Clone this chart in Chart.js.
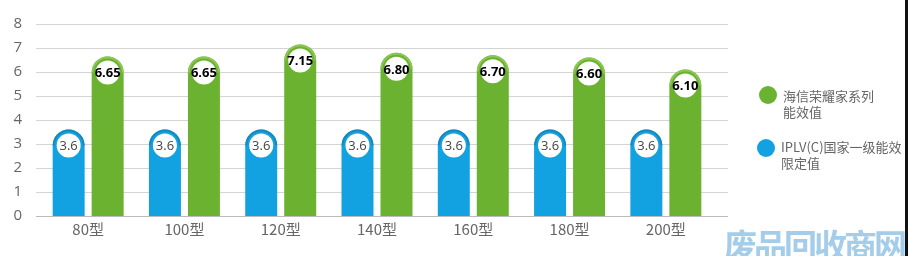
<!DOCTYPE html>
<html>
<head>
<meta charset="utf-8">
<script src="https://cdn.jsdelivr.net/npm/chart.js@4/dist/chart.umd.min.js"></script>
<style>
  body { margin: 0; background: #fff; font-family: "Noto Sans CJK SC", "Noto Sans", sans-serif; }
  #wrap { position: relative; width: 908px; height: 256px; overflow: hidden; }
  .leg { position: absolute; font-size: 13px; line-height: 16px; color: #666; }
  .dot { position: absolute; width: 18px; height: 18px; border-radius: 50%; }
  #mark { position: absolute; left: 724px; top: 220px; font-size: 33px; font-weight: bold;
          color: #a4cdea; letter-spacing: -3px; white-space: nowrap; }
  #edge { position: absolute; right: 0; top: 0; width: 3px; height: 256px; background: #111; }
</style>
</head>
<body>
<div id="wrap">
  <canvas id="myChart" width="908" height="256"></canvas>
  <div class="dot" style="left:759px;top:86px;background:#6ab22f"></div>
  <div class="leg" style="left:783px;top:88px">海信荣耀家系列<br>能效值</div>
  <div class="dot" style="left:757px;top:139px;background:#12a2e2"></div>
  <div class="leg" style="left:781px;top:139px">IPLV(C)国家一级能效<br>限定值</div>
  <div id="mark">废品回收商网</div>
  <div id="edge"></div>
</div>
<script>
// data
const categories = ["80型", "100型", "120型", "140型", "160型", "180型", "200型"];
const limitValues = [3.6, 3.6, 3.6, 3.6, 3.6, 3.6, 3.6];
const hisenseValues = [6.65, 6.65, 7.15, 6.80, 6.70, 6.60, 6.10];
const yTicks = [0, 1, 2, 3, 4, 5, 6, 7, 8];

const blue = "#12a2e2";
const green = "#6ab22f";

// gridlines run a bit wider than the bar area
const wideGrid = {
  id: "wideGrid",
  beforeDatasetsDraw(chart) {
    const ctx = chart.ctx, y = chart.scales.y;
    ctx.save();
    yTicks.forEach(v => {
      const py = Math.round(y.getPixelForValue(v)) + 0.5;
      ctx.beginPath();
      ctx.moveTo(36, py);
      ctx.lineTo(728, py);
      ctx.strokeStyle = v === 0 ? "#bbb" : "#d4d4d4";
      ctx.lineWidth = 1;
      ctx.stroke();
    });
    ctx.restore();
  }
};

// white circle with value inside the rounded cap
const capLabels = {
  id: "capLabels",
  afterDatasetsDraw(chart) {
    const ctx = chart.ctx;
    chart.data.datasets.forEach((ds, i) => {
      const meta = chart.getDatasetMeta(i);
      meta.data.forEach((bar, j) => {
        const cx = bar.x, cy = bar.y + 16;
        ctx.save();
        ctx.beginPath();
        ctx.arc(cx, cy, 15, Math.PI, 2 * Math.PI);
        ctx.strokeStyle = ds.capColor;
        ctx.lineWidth = 2;
        ctx.stroke();
        ctx.beginPath();
        ctx.arc(cx, cy, 12, 0, 2 * Math.PI);
        ctx.fillStyle = "#fff";
        ctx.fill();
        ctx.textAlign = "center";
        ctx.textBaseline = "middle";
        ctx.fillStyle = ds.textColor;
        ctx.font = ds.textFont;
        ctx.fillText(ds.labels[j], cx, cy + 1);
        ctx.restore();
      });
    });
  }
};

const chart = () => {
  var ctx = document.getElementById('myChart').getContext('2d');
  new Chart(ctx, {
    type: 'bar',
    data: {
      labels: categories,
      datasets: [{
        label: "IPLV(C)国家一级能效限定值",
        data: limitValues,
        backgroundColor: blue,
        capColor: "#1a88bd",
        textColor: "#444",
        textFont: "13px 'Open Sans', sans-serif",
        labels: limitValues.map(v => v.toFixed(1)),
        borderRadius: { topLeft: 16, topRight: 16, bottomLeft: 0, bottomRight: 0 },
        borderSkipped: false
      }, {
        label: "海信荣耀家系列能效值",
        data: hisenseValues,
        backgroundColor: green,
        capColor: "#8cc655",
        textColor: "#000",
        textFont: "bold 13px 'Open Sans', sans-serif",
        labels: hisenseValues.map(v => v.toFixed(2)),
        borderRadius: { topLeft: 16, topRight: 16, bottomLeft: 0, bottomRight: 0 },
        borderSkipped: false
      }]
    },
    options: {
      responsive: false,
      animation: false,
      categoryPercentage: 0.81,
      barPercentage: 0.82,
      layout: { padding: { top: 24, right: 194, bottom: 0, left: 0 } },
      plugins: { legend: { display: false }, tooltip: { enabled: false } },
      scales: {
        x: {
          grid: { display: false },
          border: { display: false },
          ticks: { color: "#666", font: { size: 15, family: "'Noto Sans CJK SC', sans-serif" }, padding: -4 },
          afterFit: s => { s.height = 40; }
        },
        y: {
          min: 0, max: 8,
          afterBuildTicks: s => { s.ticks = yTicks.map(v => ({ value: v })); },
          grid: { display: false },
          border: { display: false },
          ticks: { color: "#666", font: { size: 15, family: "'Open Sans', sans-serif" }, padding: 10 },
          afterFit: s => { s.width = 40; }
        }
      }
    },
    plugins: [wideGrid, capLabels]
  });
}
window.onload = chart();
</script>
</body>
</html>
